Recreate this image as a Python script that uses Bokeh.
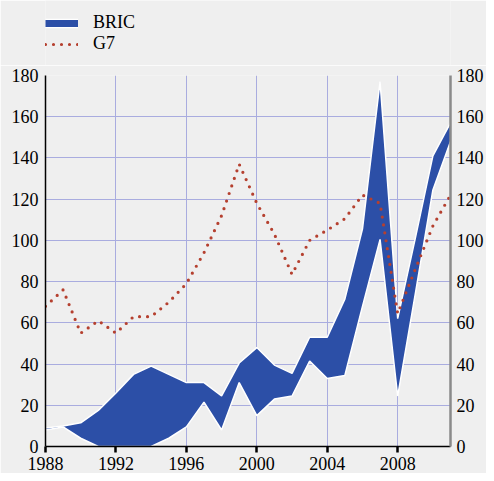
from bokeh.plotting import figure
from bokeh.layouts import column
from bokeh.models import (ColumnDataSource, LinearAxis, FixedTicker, Range1d,
                          Legend, LegendItem)
from bokeh.embed import file_html
from bokeh.resources import INLINE

years = list(range(1988, 2012))
bric_high = [9, 10, 11.5, 17.5, 26, 35, 39, 35, 31, 31, 24.5, 40.5, 48, 39.5, 35.5,
             53, 53, 71.5, 105.5, 177, 62, 101, 141, 157]
bric_low = [8, 9.5, 4, 0, 0, 0, 0, 4, 9.5, 21.5, 8, 31, 15, 23, 24.5,
            41.5, 33, 34.5, 68, 100.5, 24.5, 74, 124.5, 148]
g7 = [68, 76, 55, 61, 55, 63, 63, 70, 79, 94, 112, 137, 118, 103, 83.5,
      100, 105, 110.5, 122, 118, 64.5, 86, 107, 122]
x_ticks = [1988, 1992, 1996, 2000, 2004, 2008]
y_ticks = [0, 20, 40, 60, 80, 100, 120, 140, 160, 180]

BG = "#efefef"
BLUE = "#2c4fa7"
RED = "#b5402f"
GRID = "#a9acdf"
FONT = "Liberation Serif"

src = ColumnDataSource(dict(x=years, hi=bric_high, lo=bric_low, g7=g7))

# ---- legend strip ----
lf = figure(width=486, height=65, output_backend="svg", toolbar_location=None,
            x_range=Range1d(0, 1), y_range=Range1d(0, 1),
            x_axis_location=None, y_axis_location=None,
            min_border_left=0, min_border_right=0, min_border_top=0,
            min_border_bottom=0,
            background_fill_color=BG, border_fill_color=BG,
            outline_line_color=None)
lf.grid.visible = False
dummy = ColumnDataSource(dict(x=[-10, -9], y=[-10, -10]))
lw = lf.line(x="x", y="y", source=dummy, line_color="white", line_width=9.5)
lb = lf.line(x="x", y="y", source=dummy, line_color=BLUE, line_width=7)
lg = lf.line(x="x", y="y", source=dummy, line_color=RED, line_width=3.2,
             line_dash="0 8", line_cap="round")
legend = Legend(items=[LegendItem(label="BRIC", renderers=[lw, lb]),
                       LegendItem(label="G7", renderers=[lg])],
                location=(0, 11), orientation="vertical",
                glyph_width=33, glyph_height=20, label_height=20,
                label_standoff=15, spacing=0, padding=0, margin=0,
                border_line_color=None, background_fill_alpha=0,
                label_text_font=FONT, label_text_font_size="18px",
                label_text_color="black")
lf.add_layout(legend)

# ---- main chart ----
p = figure(width=486, height=408, output_backend="svg", toolbar_location=None,
           x_range=Range1d(1988, 2011), y_range=Range1d(0, 180),
           min_border_left=45, min_border_right=34, min_border_top=10,
           min_border_bottom=27,
           background_fill_color=BG, border_fill_color=BG,
           outline_line_color=None)

p.varea(x="x", y1="lo", y2="hi", source=src, fill_color=BLUE)
p.line(x="x", y="hi", source=src, line_color="white", line_width=1.5)
p.line(x="x", y="lo", source=src, line_color="white", line_width=1.5)
p.line(x="x", y="g7", source=src, line_color=RED, line_width=3.2,
       line_dash="0 8", line_cap="round")

p.xgrid.ticker = FixedTicker(ticks=x_ticks)
p.ygrid.ticker = FixedTicker(ticks=y_ticks)
for g in (p.xgrid, p.ygrid):
    g.grid_line_color = GRID
    g.grid_line_width = 1

ra = LinearAxis(ticker=FixedTicker(ticks=y_ticks, minor_ticks=[]))
p.add_layout(ra, "right")

common = dict(major_label_text_font_size="18px", major_label_text_color="black",
              major_label_text_font=FONT,
              minor_tick_out=0, minor_tick_in=0, major_tick_in=0)
for ax in (p.xaxis[0], p.yaxis[0], ra):
    ax.update(**common)

xa = p.xaxis[0]
xa.ticker = FixedTicker(ticks=x_ticks, minor_ticks=[])
xa.axis_line_color = "black"
xa.axis_line_width = 1.5
xa.major_tick_out = 6
xa.major_tick_line_width = 2.5
xa.major_tick_line_color = "black"
xa.major_label_standoff = 4
xa.major_label_text_line_height = 1.0

ya = p.yaxis[0]
ya.ticker = FixedTicker(ticks=y_ticks, minor_ticks=[])
ya.axis_line_color = "black"
ya.axis_line_width = 1.5
ya.major_tick_out = 0
ya.major_label_standoff = 7

ra.axis_line_color = "#8a8a8a"
ra.axis_line_width = 2.5
ra.major_tick_out = 0
ra.major_label_standoff = 6

layout = column(lf, p, spacing=0)
open("out.html", "w").write(file_html(layout, INLINE))
